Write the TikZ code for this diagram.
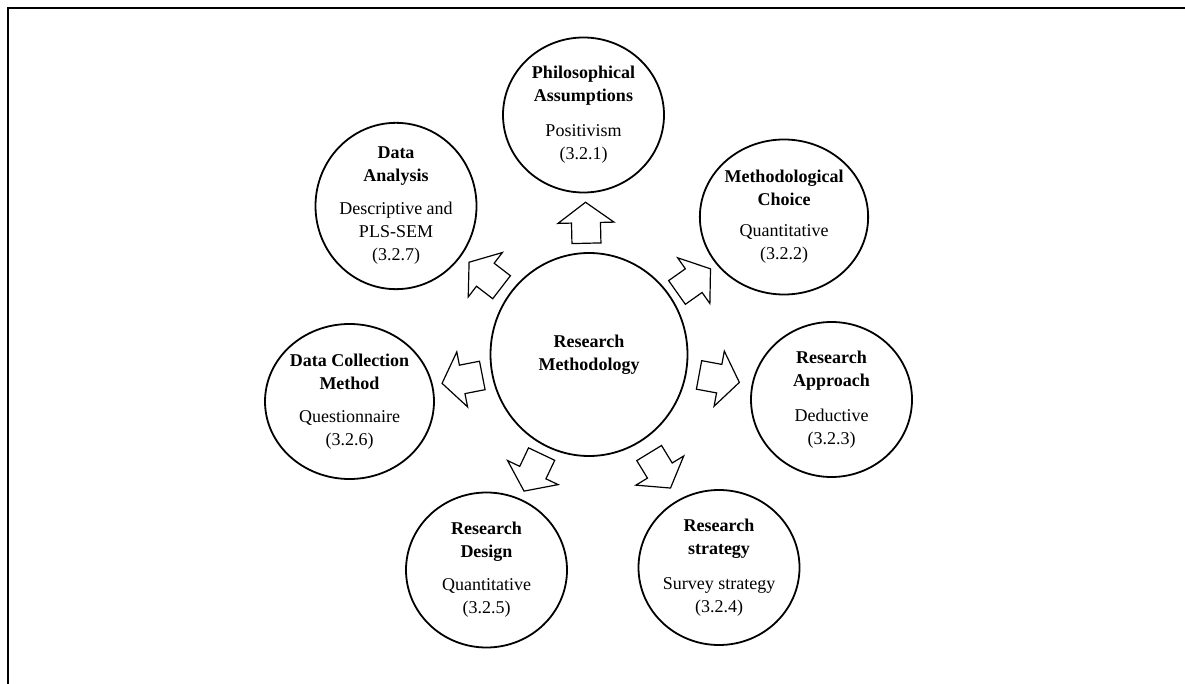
\documentclass[tikz,border=0pt]{standalone}
\usepackage{fontspec}
\setmainfont{Liberation Serif}
\usetikzlibrary{shapes.geometric}
\begin{document}
\begin{tikzpicture}[x=1pt,y=1pt,
  topic/.style={draw, line width=1.8pt, ellipse, minimum width=161pt,
    minimum height=155pt, inner sep=0pt, align=center,
    font=\fontsize{18}{23}\selectfont},
  hub/.style={draw, line width=1.8pt, ellipse, minimum width=197pt,
    minimum height=203pt, inner sep=0pt, align=center,
    font=\fontsize{18}{23}\selectfont\bfseries},
  blockarrow/.style={draw, line width=1.2pt, fill=white, line join=miter},
  frame/.style={line width=2.2pt}
]
\useasboundingbox (0,0) rectangle (1185,-684);
\draw[frame] (8,-684) -- (8,-8) -- (1185,-8);

% central hub
\node[hub] (C) at (589,-354.5) {Research\\Methodology};

% surrounding topics, clockwise from the top
\node[topic] (P) at (583.5,-115)
  {\textbf{Philosophical}\\\textbf{Assumptions}\\[12pt]Positivism\\(3.2.1)};
\node[topic] (M) at (784,-217)
  {\textbf{Methodological}\\\textbf{Choice}\\[8pt]Quantitative\\(3.2.2)};
\node[topic] (A) at (831.5,-399.5)
  {\textbf{Research}\\\textbf{Approach}\\[12pt]Deductive\\(3.2.3)};
\node[topic] (S) at (719,-567.5)
  {\textbf{Research}\\\textbf{strategy}\\[12pt]Survey strategy\\(3.2.4)};
\node[topic] (D) at (486.5,-570)
  {\textbf{Research}\\\textbf{Design}\\[10pt]Quantitative\\(3.2.5)};
\node[topic] (DC) at (349.5,-401.5)
  {\textbf{Data Collection}\\\textbf{Method}\\[10pt]Questionnaire\\(3.2.6)};
\node[topic] (DA) at (396,-206)
  {\textbf{Data}\\\textbf{Analysis}\\[10pt]Descriptive and\\PLS-SEM\\(3.2.7)};

% outline block arrows, midway between the hub and each topic
\foreach \t in {P,M,A,S,D,DC,DA}{
  \path (C) -- (\t) coordinate[midway] (m-\t);
  \pgfmathanglebetweenpoints{\pgfpointanchor{C}{center}}{\pgfpointanchor{\t}{center}}
  \let\ang\pgfmathresult
  \begin{scope}[shift={(m-\t)}, rotate=\ang]
    \draw[blockarrow] (-20.5,-14.5) -- (0,-14.5) -- (0,-28) -- (20.5,0)
      -- (0,28) -- (0,14.5) -- (-20.5,14.5) -- cycle;
  \end{scope}
}
\end{tikzpicture}
\end{document}
